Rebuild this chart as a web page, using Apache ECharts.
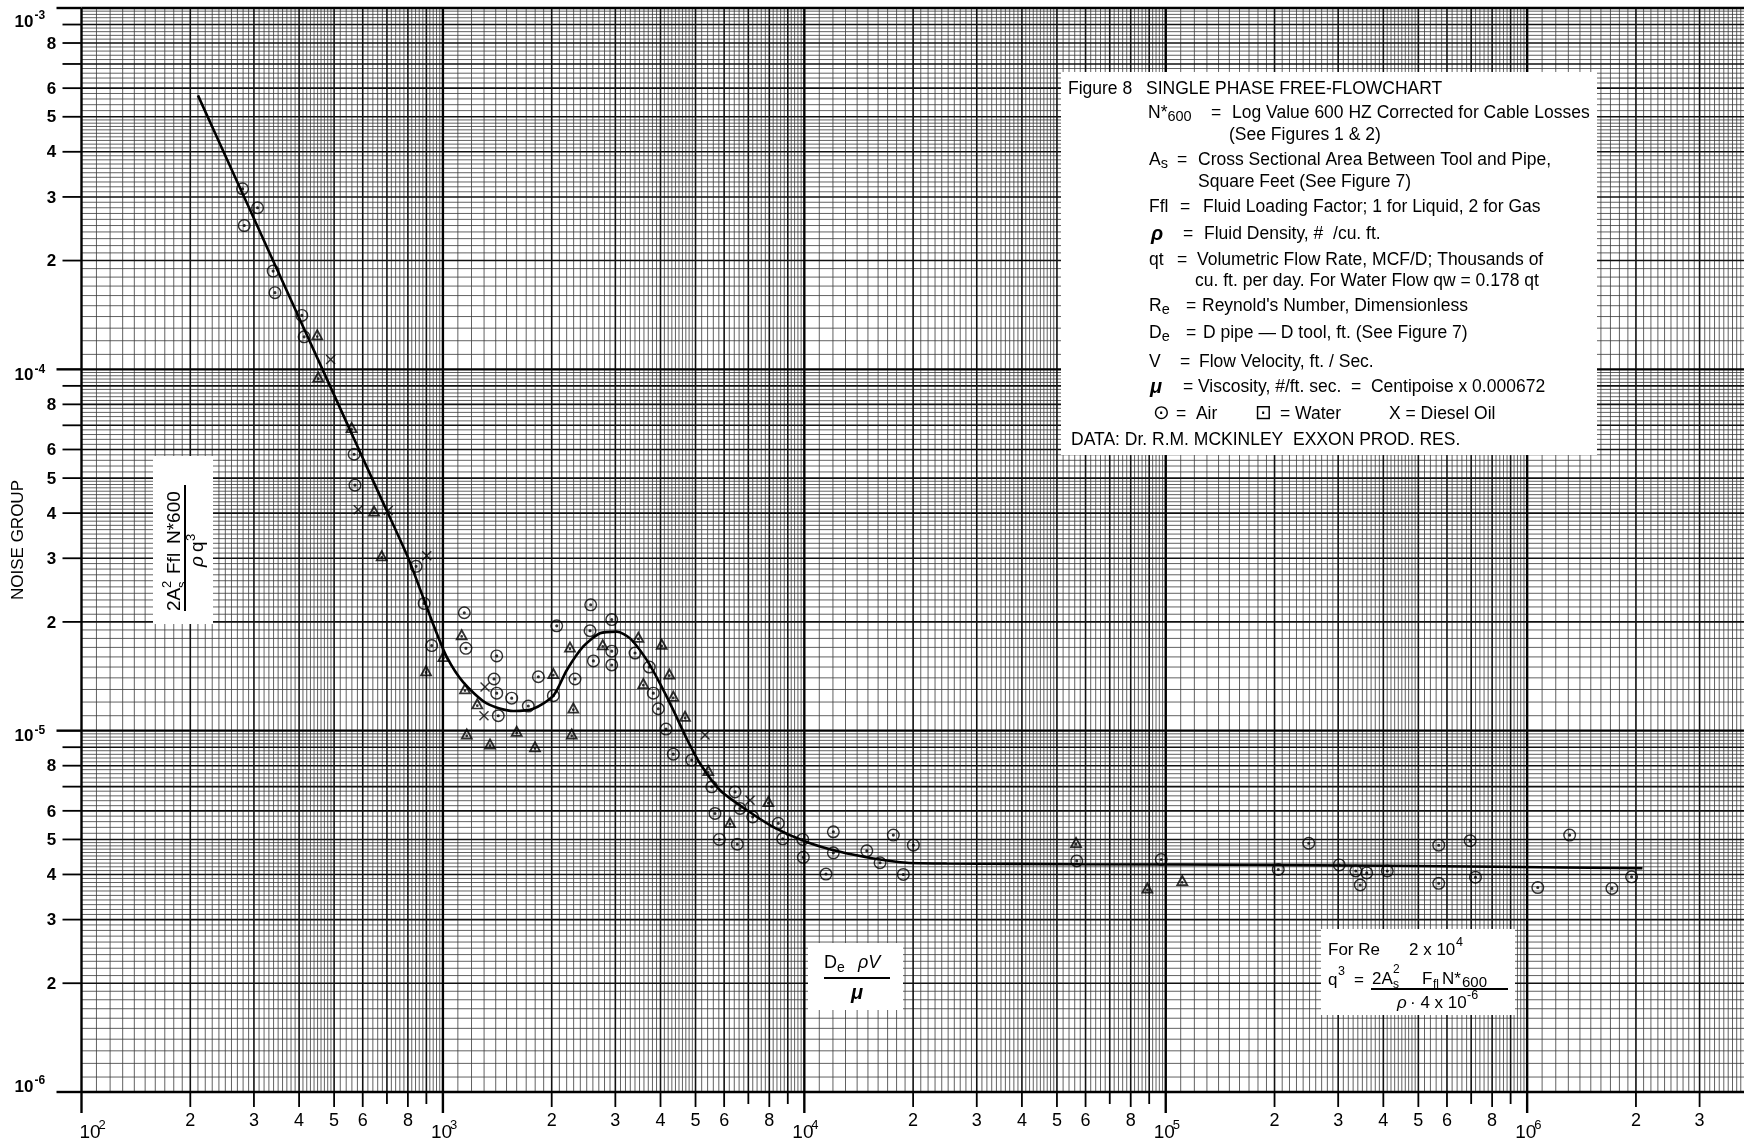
<!DOCTYPE html>
<html>
<head>
<meta charset="utf-8">
<title>Figure 8 Single Phase Free-Flowchart</title>
<script src="https://cdn.jsdelivr.net/npm/echarts@6.0.0/dist/echarts.min.js"></script>
<style>
html, body { margin:0; padding:0; background:#fff; }
#chart { width:1744px; height:1145px; }
</style>
</head>
<body>
<div id="chart"></div>
<script>
// ---------------- data ----------------
const airRe = [279, 307, 282, 339, 343, 407, 413, 568, 571, 843, 887, 1146, 931, 1158,
  1409, 1385, 1409, 1550, 1423, 1723, 1837, 2065, 2564, 2021, 2320, 2553, 2608, 2932,
  2932, 2932, 3401, 3725, 3821, 3945, 4144, 4340, 4880, 5543, 6432, 6640, 5660, 7197,
  8472, 5819, 6525, 8714, 9899, 12030, 9936, 12030, 11480, 14890, 16200, 17630, 20030, 18790,
  56730, 97160, 204800, 248700, 302100, 335700, 359900, 345300, 410200, 569300, 569300, 695500,
  719500, 1070000, 1311000, 1716000, 1945000];
const airNoise = [3.16e-4, 2.80e-4, 2.50e-4, 1.87e-4, 1.63e-4, 1.41e-4, 1.23e-4, 5.82e-5, 4.78e-5, 2.85e-5, 2.25e-5, 2.12e-5, 1.72e-5, 1.69e-5,
  1.61e-5, 1.39e-5, 1.27e-5, 1.23e-5, 1.10e-5, 1.17e-5, 1.41e-5, 1.95e-5, 2.23e-5, 1.25e-5, 1.39e-5, 1.89e-5, 1.56e-5, 2.03e-5,
  1.66e-5, 1.52e-5, 1.64e-5, 1.50e-5, 1.27e-5, 1.15e-5, 1.01e-5, 8.61e-6, 8.29e-6, 6.99e-6, 6.77e-6, 6.09e-6, 5.90e-6, 5.77e-6,
  5.54e-6, 5.00e-6, 4.85e-6, 5.02e-6, 5.00e-6, 5.25e-6, 4.46e-6, 4.59e-6, 4.01e-6, 4.65e-6, 4.31e-6, 5.14e-6, 4.82e-6, 4.00e-6,
  4.36e-6, 4.40e-6, 4.13e-6, 4.88e-6, 4.25e-6, 4.09e-6, 4.04e-6, 3.74e-6, 4.09e-6, 4.82e-6, 3.78e-6, 4.96e-6,
  3.93e-6, 3.68e-6, 5.14e-6, 3.66e-6, 3.94e-6];

const waterRe = [449, 452, 559, 645, 677, 1127, 1003, 898, 1151, 1245, 1164, 1350, 1600, 1798, 2021,
  2295, 2272, 2247, 2768, 3473, 4031, 3585, 4231, 4340, 4676, 5424, 7951, 6229, 56470, 88950, 111100];
const waterNoise = [1.25e-4, 9.56e-5, 6.92e-5, 4.07e-5, 3.06e-5, 1.85e-5, 1.61e-5, 1.47e-5, 1.31e-5, 1.19e-5, 9.82e-6, 9.22e-6, 1.00e-5, 9.06e-6, 1.445e-5,
  1.16e-5, 9.82e-6, 1.71e-5, 1.735e-5, 1.82e-5, 1.74e-5, 1.356e-5, 1.44e-5, 1.25e-5, 1.10e-5, 7.78e-6, 6.39e-6, 5.59e-6, 4.92e-6, 3.68e-6, 3.86e-6];

const dieselRe = [489, 583, 706, 902, 1308, 1299, 5312, 7076];
const dieselNoise = [1.064e-4, 4.09e-5, 4.07e-5, 3.05e-5, 1.32e-5, 1.10e-5, 9.72e-6, 6.42e-6];

const curveRe = [210, 260, 330, 420, 530, 660, 800, 887, 940, 1025, 1139, 1322, 1566, 1778, 2021, 2201, 2446, 2720, 3027, 3294,
  3664, 3988, 4340, 4727, 5145, 5845, 6928, 8209, 10150, 12550, 15520, 19200, 24770, 57930, 204500, 820400, 2085000];
const curveNoise = [5.73e-4, 3.58e-4, 2.12e-4, 1.247e-4, 7.47e-5, 4.61e-5, 3.02e-5, 2.3e-5, 1.97e-5, 1.6e-5, 1.36e-5, 1.19e-5, 1.134e-5, 1.15e-5, 1.25e-5, 1.47e-5, 1.71e-5, 1.86e-5, 1.88e-5, 1.80e-5,
  1.57e-5, 1.35e-5, 1.14e-5, 9.5e-6, 8.11e-6, 6.84e-6, 6.03e-6, 5.41e-6, 4.92e-6, 4.62e-6, 4.43e-6, 4.31e-6, 4.29e-6, 4.27e-6, 4.25e-6, 4.20e-6, 4.16e-6];

// axis extent and tick labels
const X_MIN = 100, X_MAX = 3981072, Y_MIN = 1e-6, Y_MAX = 1e-3;
const xDecadeExponents = [2, 3, 4, 5, 6];
const yDecadeExponents = [-6, -5, -4, -3];
const tickMultipliers = [2, 3, 4, 5, 6, 7, 8, 9];
const labelledMultipliers = [2, 3, 4, 5, 6, 8];

// ---------------- helpers ----------------
const F = '"Liberation Sans", Arial, Helvetica, sans-serif';
const FN = '"Liberation Sans Narrow", "Liberation Sans", Arial, sans-serif';
const zip = (a, b) => a.map((v, i) => [v, b[i]]);

function paperValues(lo, hi) {
  const out = [];
  const e0 = Math.floor(Math.log10(lo) + 1e-9), e1 = Math.ceil(Math.log10(hi) - 1e-9);
  for (let e = e0; e <= e1; e++) {
    const b = Math.pow(10, e);
    for (let k = 10; k < 100; k += (k < 50 ? 1 : 2)) {
      const v = b * k / 10;
      if (v < lo * 0.9999 || v > hi * 1.0001) continue;
      out.push({ v: v, kind: k === 10 ? 2 : (k % 10 === 0 ? 1 : 0) });
    }
  }
  return out;
}
const LINE_STYLES = [
  { stroke: '#3a3a3a', lineWidth: 0.8 },
  { stroke: '#111', lineWidth: 1.6 },
  { stroke: '#000', lineWidth: 2.4 }
];
function seg(x1, y1, x2, y2, style) {
  return { type: 'line', silent: true, shape: { x1, y1, x2, y2 }, style: Object.assign({}, style) };
}
function txt(x, y, s, font, align, extra) {
  return {
    type: 'text', x, y, silent: true,
    style: Object.assign({ text: s, font, fill: '#000', align: align, textAlign: align,
      verticalAlign: 'middle', textVerticalAlign: 'middle' }, extra || {})
  };
}

function renderPaper(params, api) {
  const top = api.coord([X_MIN, Y_MAX])[1];
  const bottom = api.coord([X_MIN, Y_MIN])[1];
  const left = api.coord([X_MIN, Y_MIN])[0];
  const right = api.coord([X_MAX, Y_MIN])[0];
  const layers = [[], [], []];
  paperValues(X_MIN, X_MAX).forEach(p => {
    const x = api.coord([p.v, Y_MIN])[0];
    layers[p.kind].push(seg(x, top, x, bottom, LINE_STYLES[p.kind]));
  });
  paperValues(Y_MIN, Y_MAX).forEach(p => {
    const y = api.coord([X_MIN, p.v])[1];
    layers[p.kind].push(seg(left, y, right, y, LINE_STYLES[p.kind]));
  });
  return { type: 'group', children: layers[0].concat(layers[1], layers[2]) };
}

function renderAxes(params, api) {
  const kids = [];
  const [xLeft, yBottom] = api.coord([X_MIN, Y_MIN]);
  const tick = { stroke: '#000', lineWidth: 1.8 };
  const tickBig = { stroke: '#000', lineWidth: 2.4 };
  // x axis ticks and labels
  xDecadeExponents.forEach((e, i) => {
    const base = Math.pow(10, e);
    const x = api.coord([base, Y_MIN])[0];
    kids.push(seg(x, yBottom, x, yBottom + 21, tickBig));
    const sx = i === 0 ? x - 2 : x - 12;
    kids.push(txt(sx, yBottom + 41, '10', `19px ${FN}`, 'left'));
    kids.push(txt(sx + 19, yBottom + 33, String(e), `13px ${FN}`, 'left'));
    tickMultipliers.forEach(m => {
      const v = base * m;
      if (v > X_MAX) return;
      const xm = api.coord([v, Y_MIN])[0];
      const lab = labelledMultipliers.indexOf(m) >= 0;
      kids.push(seg(xm, yBottom, xm, yBottom + (lab ? 15 : 12), tick));
      if (lab) kids.push(txt(xm, yBottom + 29, String(m), `18px ${FN}`, 'center'));
    });
  });
  // y axis ticks and labels
  yDecadeExponents.forEach((e, i) => {
    const base = Math.pow(10, e);
    const y = api.coord([X_MIN, base])[1];
    kids.push(seg(xLeft - 25, y, xLeft, y, tickBig));
    const dy = i === yDecadeExponents.length - 1 ? 14 : (i === 0 ? -5 : 6);
    kids.push(txt(xLeft - 48, y + dy, '10', `bold 17px ${F}`, 'right'));
    kids.push(txt(xLeft - 47, y + dy - 6, String(e), `bold 12px ${F}`, 'left'));
    if (i === yDecadeExponents.length - 1) return;
    tickMultipliers.forEach(m => {
      const yv = api.coord([X_MIN, base * m])[1];
      const lab = labelledMultipliers.indexOf(m) >= 0;
      kids.push(seg(xLeft - 19, yv, xLeft, yv, tick));
      if (lab) kids.push(txt(xLeft - 30, yv + 1, String(m), `bold 17px ${F}`, 'center'));
    });
  });
  return { type: 'group', children: kids };
}

// symbols
const AIR_SYMBOL = 'path://M10,0 A10,10 0 1,1 10,20 A10,10 0 1,1 10,0 Z M10,2.2 A7.8,7.8 0 1,0 10,17.8 A7.8,7.8 0 1,0 10,2.2 Z M10,7.6 A2.4,2.4 0 1,1 10,12.4 A2.4,2.4 0 1,1 10,7.6 Z';
const WATER_SYMBOL = 'path://M10,0 L20,18 L0,18 Z M10,6 L4.6,15.4 L15.4,15.4 Z M10,10.3 A2.1,2.1 0 1,1 10,14.5 A2.1,2.1 0 1,1 10,10.3 Z';
const DIESEL_SYMBOL = 'path://M0,2 L2,0 L10,8 L18,0 L20,2 L12,10 L20,18 L18,20 L10,12 L2,20 L0,18 L8,10 Z';

// ---------------- annotations (text boxes) ----------------
const LF = `17.5px ${F}`;
const richSub = {
  b: { font: LF, lineHeight: 22, verticalAlign: 'middle' },
  s: { font: `14.5px ${F}`, lineHeight: 14, verticalAlign: 'bottom' }
};
function gText(x, y, s, font, extra) {
  const el = txt(x, y, s, font || LF, 'left', extra);
  el.z = 60;
  return el;
}
function gRich(x, y, s, rich) {
  return gText(x, y, s, LF, { rich: rich || richSub });
}
function gRect(x, y, w, h) {
  return { type: 'rect', z: 55, silent: true, shape: { x, y, width: w, height: h }, style: { fill: '#fff' } };
}
function gLine(x1, y1, x2, y2, w) {
  return { type: 'line', z: 60, silent: true, shape: { x1, y1, x2, y2 }, style: { stroke: '#000', lineWidth: w || 2 } };
}

const legendItems = [
  gText(1068, 89, 'Figure 8'),
  gText(1146, 89, 'SINGLE PHASE FREE-FLOWCHART'),
  gRich(1148, 113, '{b|N*}{s|600}'), gText(1211, 113, '='), gText(1232, 113, 'Log Value 600 HZ Corrected for Cable Losses'),
  gText(1229, 135, '(See Figures 1 & 2)'),
  gRich(1149, 160, '{b|A}{s|s}'), gText(1177, 160, '='), gText(1198, 160, 'Cross Sectional Area Between Tool and Pipe,'),
  gText(1198, 182, 'Square Feet (See Figure 7)'),
  gText(1149, 207, 'Ffl'), gText(1180, 207, '='), gText(1203, 207, 'Fluid Loading Factor; 1 for Liquid, 2 for Gas'),
  gText(1151, 234, 'ρ', `italic bold 20px ${F}`), gText(1183, 234, '='), gText(1204, 234, 'Fluid Density, #  /cu. ft.'),
  gText(1149, 260, 'qt'), gText(1177, 260, '='), gText(1197, 260, 'Volumetric Flow Rate, MCF/D; Thousands of'),
  gText(1195, 281, 'cu. ft. per day. For Water Flow qw = 0.178 qt'),
  gRich(1149, 306, '{b|R}{s|e}'), gText(1186, 306, '='), gText(1202, 306, "Reynold's Number, Dimensionless"),
  gRich(1149, 333, '{b|D}{s|e}'), gText(1186, 333, '='), gText(1203, 333, 'D pipe — D tool, ft. (See Figure 7)'),
  gText(1149, 362, 'V'), gText(1180, 362, '='), gText(1199, 362, 'Flow Velocity, ft. / Sec.'),
  gText(1150, 387, 'μ', `italic bold 20px ${F}`), gText(1183, 387, '='), gText(1198, 387, 'Viscosity, #/ft. sec.  =  Centipoise x 0.000672'),
  gText(1153, 414, '⊙', `20px "DejaVu Sans", ${F}`), gText(1176, 414, '=  Air'),
  gText(1255, 414, '⊡', `20px "DejaVu Sans", ${F}`), gText(1280, 414, '= Water'),
  gText(1389, 414, 'X = Diesel Oil'),
  gText(1071, 440, 'DATA: Dr. R.M. MCKINLEY  EXXON PROD. RES.')
];

// rotated y-title fraction
const yTitle = {
  type: 'group', x: 185, y: 548, rotation: Math.PI / 2, z: 60, silent: true,
  children: [
    txt(-63, -10, '2A', `19px ${F}`, 'left'),
    txt(-40, -18, '2', `13px ${F}`, 'left'),
    txt(-40, -3, 's', `13px ${F}`, 'left'),
    txt(-26, -10, 'Ffl', `19px ${F}`, 'left'),
    txt(4, -10, 'N*600', `19px ${F}`, 'left'),
    { type: 'line', shape: { x1: -63, y1: 0, x2: 63, y2: 0 }, style: { stroke: '#000', lineWidth: 2 } },
    txt(-19, 13, 'ρ', `italic 19px ${F}`, 'left'),
    txt(-4, 13, 'q', `19px ${F}`, 'left'),
    txt(7, 6, '3', `13px ${F}`, 'left')
  ].map(e => Object.assign(e, { z: 60 }))
};

const noiseTitle = gText(18, 540, 'NOISE GROUP', `17px ${F}`, { align: 'center', textAlign: 'center' });
noiseTitle.rotation = Math.PI / 2;

const annotations = [
  gRect(1061, 72, 536, 383),
  gRect(153, 456, 60, 168),
  gRect(808, 943, 95, 67),
  gRect(1321, 929, 194, 86),
  ...legendItems,
  yTitle,
  noiseTitle,
  // De rho V / mu
  gText(824, 963, 'D', `18px ${F}`), gText(837, 968, 'e', `14px ${F}`),
  gText(858, 963, 'ρV', `italic 18px ${F}`),
  gLine(824, 978, 890, 978, 2.2),
  gText(851, 993, 'μ', `italic bold 20px ${F}`),
  // For Re box
  gText(1328, 950, 'For Re', `17px ${F}`),
  gText(1409, 950, '2 x 10', `17px ${F}`), gText(1456, 943, '4', `12.5px ${F}`),
  gText(1328, 980, 'q', `17px ${F}`), gText(1338, 972, '3', `12.5px ${F}`),
  gText(1354, 980, '=', `17px ${F}`),
  gText(1372, 979, '2A', `17px ${F}`), gText(1393, 970, '2', `12px ${F}`), gText(1393, 985, 's', `12px ${F}`),
  gText(1422, 979, 'F', `17px ${F}`), gText(1433, 985, 'fl', `12px ${F}`),
  gText(1442, 979, 'N*', `17px ${F}`), gText(1462, 983, '600', `15px ${F}`),
  gLine(1371, 989, 1508, 989, 1.8),
  gText(1397, 1003, 'ρ', `italic 17px ${F}`), gText(1410, 1003, '· 4 x 10', `17px ${F}`),
  gText(1467, 996, '-6', `12.5px ${F}`)
];

// ---------------- chart ----------------
const chart = echarts.init(document.getElementById('chart'), null, { renderer: 'canvas' });
chart.setOption({
  backgroundColor: '#fff',
  animation: false,
  grid: { left: 81.5, right: 0, top: 8, bottom: 53, containLabel: false },
  xAxis: { type: 'log', logBase: 10, min: X_MIN, max: X_MAX, show: false },
  yAxis: { type: 'log', logBase: 10, min: Y_MIN, max: Y_MAX, show: false },
  series: [
    { type: 'custom', name: 'paper', z: 1, silent: true, clip: false, renderItem: renderPaper, data: [[1000, 1e-5]] },
    { type: 'custom', name: 'axes', z: 2, silent: true, clip: false, renderItem: renderAxes, data: [[1000, 1e-5]] },
    { type: 'line', name: 'Fit', z: 3, data: zip(curveRe, curveNoise), showSymbol: false, symbol: 'none',
      smooth: 0.25, lineStyle: { color: '#000', width: 2.6 }, silent: true },
    { type: 'scatter', name: 'Air', z: 4, data: zip(airRe, airNoise), symbol: AIR_SYMBOL, symbolSize: 13,
      symbolKeepAspect: true, itemStyle: { color: '#000' }, silent: true },
    { type: 'scatter', name: 'Water', z: 4, data: zip(waterRe, waterNoise), symbol: WATER_SYMBOL, symbolSize: [13, 12],
      itemStyle: { color: '#000' }, silent: true },
    { type: 'scatter', name: 'Diesel Oil', z: 4, data: zip(dieselRe, dieselNoise), symbol: DIESEL_SYMBOL, symbolSize: 10,
      itemStyle: { color: '#000' }, silent: true }
  ],
  graphic: { elements: annotations }
});
</script>
</body>
</html>
